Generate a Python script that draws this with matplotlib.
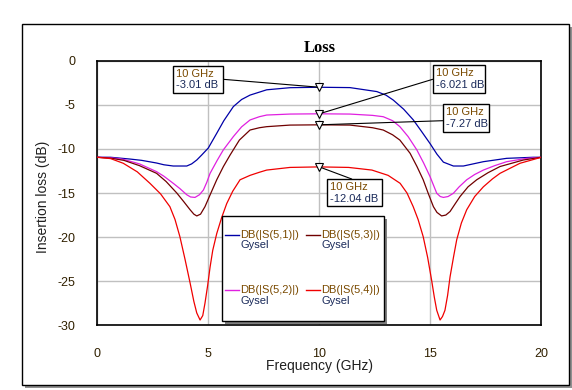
import matplotlib
matplotlib.use("Agg")
import matplotlib.pyplot as plt
from matplotlib.patches import Rectangle

plt.rcParams['font.family'] = ['Liberation Sans', 'DejaVu Sans']
plt.rcParams['axes.unicode_minus'] = False

# ---- data ----
f_s51 = [0, 0.6, 1.47, 2.0, 2.67, 3.0, 3.42, 4.03, 4.25, 4.48, 4.7, 5.0, 5.38, 5.7, 6.13, 6.5, 6.88, 7.63, 8.68, 10,
         11.38, 12.59, 13.0, 13.33, 13.8, 14.23, 14.6, 14.99, 15.3, 15.59, 16.04, 16.49, 17.39, 18.44, 19.64, 20]
db_s51 = [-10.95, -10.95, -11.15, -11.3, -11.6, -11.8, -11.94, -11.94, -11.7, -11.26, -10.7, -9.9, -8.23, -6.8, -5.2, -4.4,
          -3.9, -3.3, -3.06, -3.01,
          -3.05, -3.5, -3.9, -4.46, -5.5, -6.7, -8.0, -9.4, -10.6, -11.5, -11.94, -11.94, -11.45, -11.07, -10.95, -10.95]

f_s52 = [0, 0.6, 1.17, 1.9, 2.67, 3.0, 3.42, 3.72, 4.03, 4.2, 4.4, 4.6, 4.78, 4.93, 5.08, 5.4, 5.68, 6.13, 6.5, 6.88,
         7.3, 7.63, 8.68, 10,
         11.38, 12.4, 12.88, 13.3, 13.63, 14.0, 14.39, 14.7, 14.99, 15.29, 15.45, 15.59, 15.8, 16.04, 16.3, 16.64,
         17.0, 17.39, 17.9, 18.44, 19.34, 20]
db_s52 = [-10.95, -11.0, -11.18, -11.7, -12.58, -13.1, -13.9, -14.5, -15.2, -15.45, -15.5, -15.2, -14.66, -13.8, -12.77,
          -11.3, -10.1, -8.6, -7.5, -6.72, -6.35, -6.16, -6.05, -6.021,
          -6.05, -6.2, -6.35, -6.8, -7.48, -8.6, -10.1, -11.6, -13.15, -15.03, -15.4, -15.5, -15.4, -15.03, -14.3, -13.5,
          -12.9, -12.4, -11.9, -11.45, -11.07, -10.95]

f_s53 = [0, 0.6, 1.2, 1.9, 2.67, 3.1, 3.58, 3.9, 4.18, 4.35, 4.48, 4.65, 4.85, 5.1, 5.38, 5.68, 5.98, 6.4, 6.88, 7.3,
         7.63, 8.68, 10,
         11.38, 12.4, 12.88, 13.3, 13.63, 14.09, 14.4, 14.68, 14.9, 15.14, 15.3, 15.51, 15.7, 15.89, 16.1, 16.34, 16.7,
         17.09, 17.6, 18.14, 19.19, 20]
db_s53 = [-10.95, -11.05, -11.3, -11.9, -12.77, -13.7, -15.0, -16.0, -16.9, -17.4, -17.6, -17.4, -16.55, -15.1, -13.5,
          -12.0, -10.7, -9.0, -7.86, -7.6, -7.48, -7.3, -7.27,
          -7.3, -7.6, -7.86, -8.4, -9.0, -10.5, -12.0, -13.5, -15.0, -16.55, -17.2, -17.6, -17.5, -17.1, -16.3, -15.4,
          -14.3, -13.5, -12.7, -12.0, -11.26, -10.95]

f_s54 = [0, 0.6, 1.17, 1.8, 2.37, 2.85, 3.27, 3.5, 3.72, 3.95, 4.18, 4.35, 4.48, 4.63, 4.75, 4.85, 4.97, 5.08, 5.2,
         5.38, 5.6, 5.83, 6.1, 6.43, 6.88, 7.3, 7.63, 8.68, 10,
         11.32, 12.37, 13.1, 13.64, 13.95, 14.23, 14.45, 14.68, 14.88, 15.06, 15.18, 15.29, 15.44, 15.55, 15.66,
         15.78, 15.89, 16.05, 16.19, 16.4, 16.64, 17.0, 17.39, 17.8, 18.14, 19.04, 20]
db_s54 = [-10.95, -11.1, -11.63, -12.6, -13.9, -15.1, -16.55, -18.0, -19.95, -22.5, -25.2, -27.3, -28.6, -29.4, -28.9,
          -27.5, -25.5, -23.4, -21.5, -19.6, -17.8, -16.2, -14.8, -13.5, -13.0, -12.65, -12.4, -12.1, -12.04,
          -12.1, -12.4, -13.0, -13.9, -15.0, -16.55, -18.0, -19.95, -22.3, -24.9, -26.8, -28.3, -29.4, -29.0, -28.3,
          -26.6, -24.5, -22.2, -20.3, -18.4, -16.9, -15.4, -14.3, -13.4, -12.77, -11.63, -10.95]

marker_freq = 10
marker_vals = [-3.01, -6.021, -7.27, -12.04]
marker_labels = ["-3.01 dB", "-6.021 dB", "-7.27 dB", "-12.04 dB"]

legend_names = ["DB(|S(5,1)|)", "DB(|S(5,3)|)", "DB(|S(5,2)|)", "DB(|S(5,4)|)"]
legend_sub = "Gysel"

x_ticks = [0, 5, 10, 15, 20]
y_ticks = [0, -5, -10, -15, -20, -25, -30]

# ---- figure ----
W, H = 572, 390
fig = plt.figure(figsize=(W / 100, H / 100), dpi=100)


def px(x, y):
    return (x / W, 1 - y / H)


ax_l, ax_t, ax_r, ax_b = 97.3, 60.7, 541.3, 325.3
ax = fig.add_axes([ax_l / W, 1 - ax_b / H, (ax_r - ax_l) / W, (ax_b - ax_t) / H])

# outer frame with shadow
fig.add_artist(Rectangle(px(25, 388), (569 - 22) / W, (388 - 27) / H, transform=fig.transFigure,
                         facecolor='#909090', edgecolor='none', zorder=-2))
fig.add_artist(Rectangle(px(22, 385), (569 - 22) / W, (385 - 24) / H, transform=fig.transFigure,
                         facecolor='white', edgecolor='black', lw=1.0, zorder=-1))

c_blue, c_mag, c_brown, c_red = '#0000A8', '#E020E0', '#700000', '#F00000'
ax.plot(f_s51, db_s51, color=c_blue, lw=0.9, zorder=3)
ax.plot(f_s52, db_s52, color=c_mag, lw=0.9, zorder=3)
ax.plot(f_s53, db_s53, color=c_brown, lw=0.9, zorder=3)
ax.plot(f_s54, db_s54, color=c_red, lw=0.9, zorder=3)

ax.set_xlim(0, 20)
ax.set_ylim(-30, 0)
ax.set_xticks(x_ticks)
ax.set_yticks(y_ticks)
ax.grid(True, color='#c0c0c0', lw=1.0)
ax.set_axisbelow(True)
ax.tick_params(length=0, labelsize=9, labelcolor='#302000')
ax.tick_params(axis='x', pad=16)
ax.tick_params(axis='y', pad=16)
for s in ax.spines.values():
    s.set_linewidth(1.2)
    s.set_color('black')

fig.text(*px(319.3, 48), "Loss", ha='center', va='center', fontsize=12, fontweight='bold',
         family='Liberation Serif')
fig.text(*px(319.3, 366), "Frequency (GHz)", ha='center', va='center', fontsize=10, color='#202020')
fig.text(*px(42.7, 197), "Insertion loss (dB)", ha='center', va='center', rotation=90, fontsize=10,
         color='#202020')

# markers and annotation boxes
boxes = [  # left, top, right, bottom, line start x, y
    (172.7, 66.0, 223.0, 93.0, 223.0, 79.3),
    (432.7, 65.0, 485.0, 93.0, 432.7, 79.3),
    (442.7, 104.3, 489.3, 131.7, 442.7, 120.7),
    (326.7, 179.0, 382.0, 206.0, 351.7, 179.0),
]
for val, lab, (l, t, r, b, lx, ly) in zip(marker_vals, marker_labels, boxes):
    ax.annotate('', xy=(marker_freq, val), xycoords='data', xytext=px(lx, ly),
                textcoords='figure fraction',
                arrowprops=dict(arrowstyle='-', lw=0.8, color='black', shrinkA=0, shrinkB=0),
                zorder=4)
    ax.plot([marker_freq], [val], marker='v', ms=6, mfc='white', mec='black', mew=0.8, zorder=6,
            clip_on=False)
    fig.add_artist(Rectangle(px(l, b), (r - l) / W, (b - t) / H, transform=fig.transFigure,
                             facecolor='white', edgecolor='black', lw=1.0, zorder=5))
    fig.text(*px(l + 3, t + 8), "10 GHz", ha='left', va='center', fontsize=8, color='#7a4a00', zorder=6)
    fig.text(*px(l + 3, t + 19.5), lab, ha='left', va='center', fontsize=8, color='#1a2a5a', zorder=6)

# legend box
lg_l, lg_t, lg_r, lg_b = 221.7, 216.0, 384.3, 320.7
fig.add_artist(Rectangle(px(lg_l + 3, lg_b + 3), (lg_r - lg_l) / W, (lg_b - lg_t) / H,
                         transform=fig.transFigure, facecolor='#808080', edgecolor='none', zorder=5))
fig.add_artist(Rectangle(px(lg_l, lg_b), (lg_r - lg_l) / W, (lg_b - lg_t) / H,
                         transform=fig.transFigure, facecolor='white', edgecolor='black', lw=1.0, zorder=5))
leg_colors = [c_blue, c_brown, c_mag, c_red]
leg_pos = [(225, 235), (306, 235), (225, 290), (306, 290)]
for name, col, (lx, ly) in zip(legend_names, leg_colors, leg_pos):
    x0, y0 = px(lx, ly)
    x1, _ = px(lx + 13.5, ly)
    fig.add_artist(plt.Line2D([x0, x1], [y0, y0], transform=fig.transFigure, color=col, lw=1.0, zorder=6))
    fig.text(*px(lx + 15.5, ly), name, ha='left', va='center', fontsize=8, color='#7a4a00', zorder=6)
    fig.text(*px(lx + 15.5, ly + 10.5), legend_sub, ha='left', va='center', fontsize=8, color='#1a2a5a',
             zorder=6)

fig.savefig("out.png", dpi=100)
